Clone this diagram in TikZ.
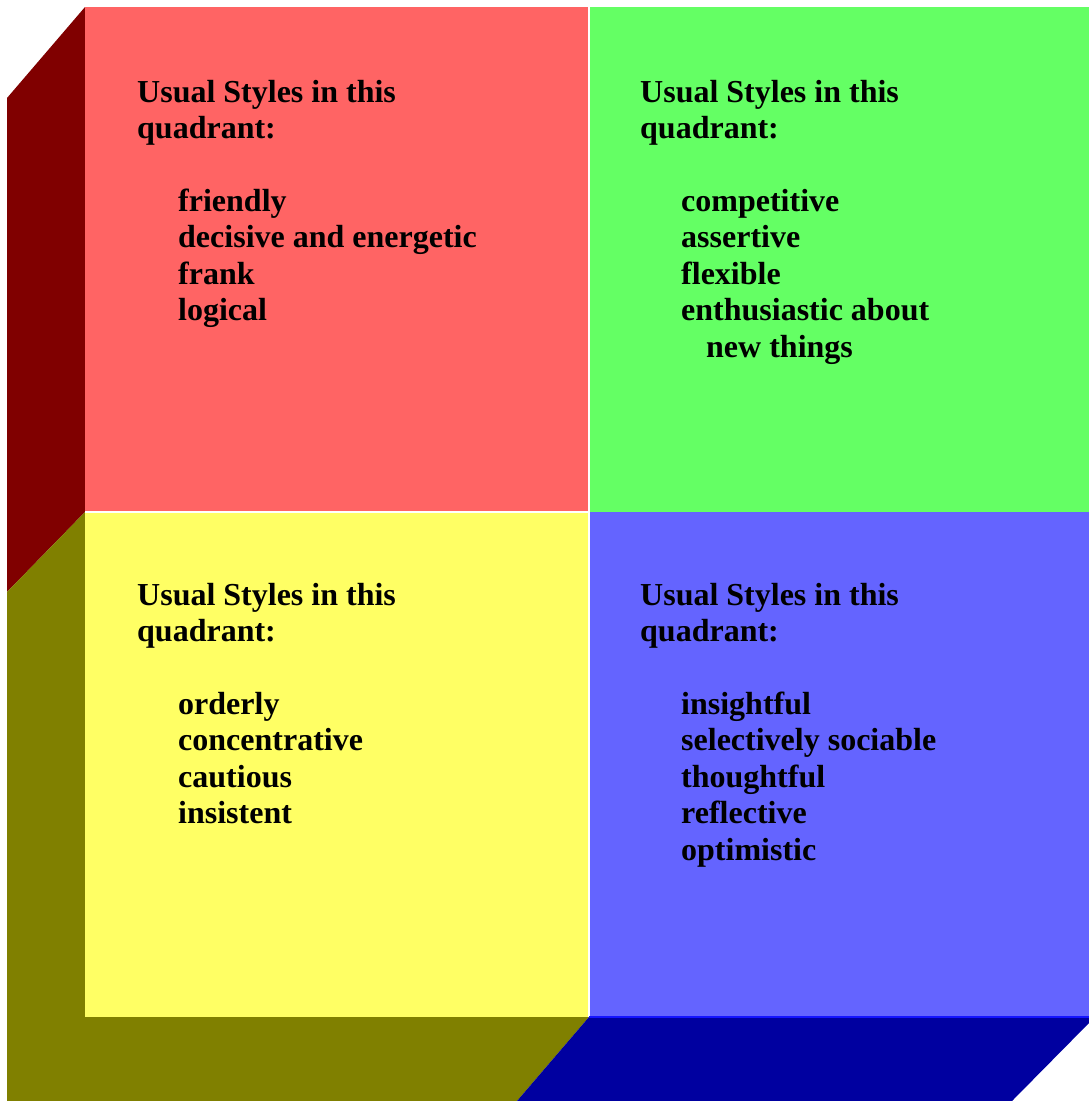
\documentclass[tikz,border=0pt]{standalone}
\usepackage{fontspec}
\setmainfont{Liberation Serif}
\definecolor{qred}{RGB}{255,100,100}
\definecolor{qgreen}{RGB}{100,255,100}
\definecolor{qyellow}{RGB}{255,255,100}
\definecolor{qblue}{RGB}{100,100,255}
\definecolor{sred}{RGB}{128,0,0}
\definecolor{solive}{RGB}{128,128,0}
\definecolor{sblue}{RGB}{0,0,160}
\definecolor{eblue}{RGB}{20,20,255}
\begin{document}
\begin{tikzpicture}[x=1pt,y=-1pt,
  txt/.style={anchor=base west, inner sep=0pt, font=\fontsize{32}{36.5}\selectfont\bfseries, text=black}]
\useasboundingbox (0,0) rectangle (1089,1101);
\fill[white] (0,0) rectangle (1089,1101);
% side faces
\fill[sred] (7,98) -- (85,7) -- (85,512) -- (7,592) -- cycle;
\fill[solive] (7,592) -- (85,512) -- (85,1017) -- (589,1017) -- (517,1101) -- (7,1101) -- cycle;
\fill[sblue] (589,1017) -- (1089,1017) -- (1089,1023) -- (1012,1101) -- (517,1101) -- cycle;
% quadrants
\fill[qred] (85,7) rectangle (589,512);
\fill[qgreen] (589,7) rectangle (1089,512);
\fill[qyellow] (85,512) rectangle (589,1017);
\fill[qblue] (589,512) rectangle (1089,1017);
\draw[white, line width=1.5pt] (589,7) -- (589,1017);
\draw[white, line width=1.5pt] (85,512) -- (589,512);
\draw[eblue, line width=1.5pt] (589,1017) -- (1089,1017);
% red quadrant
\node[txt] (r0) at (137,102) {Usual Styles in this};
\node[txt] (r1) at (137,138.5) {quadrant:};
\node[txt] (r2) at (178,211) {friendly};
\node[txt] (r3) at (178,247.5) {decisive and energetic};
\node[txt] (r4) at (178,284) {frank};
\node[txt] (r5) at (178,320.5) {logical};
% green quadrant
\node[txt] (g0) at (640,102) {Usual Styles in this};
\node[txt] (g1) at (640,138.5) {quadrant:};
\node[txt] (g2) at (681,211) {competitive};
\node[txt] (g3) at (681,247.5) {assertive};
\node[txt] (g4) at (681,284) {flexible};
\node[txt] (g5) at (681,320.5) {enthusiastic about};
\node[txt] (g6) at (706,357) {new things};
% yellow quadrant
\node[txt] (y0) at (137,605) {Usual Styles in this};
\node[txt] (y1) at (137,641.5) {quadrant:};
\node[txt] (y2) at (178,714) {orderly};
\node[txt] (y3) at (178,750.5) {concentrative};
\node[txt] (y4) at (178,787) {cautious};
\node[txt] (y5) at (178,823.5) {insistent};
% blue quadrant
\node[txt] (b0) at (640,605) {Usual Styles in this};
\node[txt] (b1) at (640,641.5) {quadrant:};
\node[txt] (b2) at (681,714) {insightful};
\node[txt] (b3) at (681,750.5) {selectively sociable};
\node[txt] (b4) at (681,787) {thoughtful};
\node[txt] (b5) at (681,823.5) {reflective};
\node[txt] (b6) at (681,860) {optimistic};
\end{tikzpicture}
\end{document}
